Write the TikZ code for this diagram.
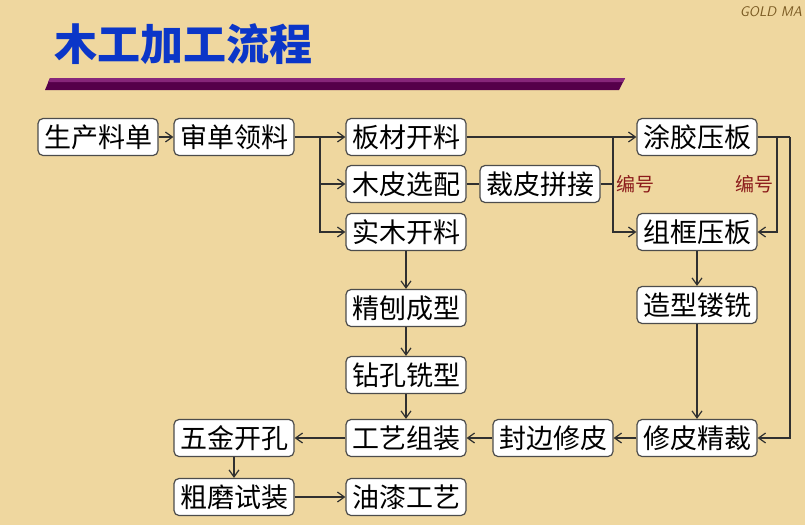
\documentclass[tikz,border=0pt]{standalone}
\usepackage{fontspec}
\newfontfamily\cjk{Noto Sans CJK SC}
\usetikzlibrary{arrows.meta,positioning}
\definecolor{paper}{HTML}{EFD79F}
\definecolor{titleblue}{HTML}{0B36C8}
\definecolor{barpurple}{HTML}{55004A}
\definecolor{bartop}{HTML}{86267A}
\definecolor{numred}{HTML}{8B1A1A}
\definecolor{linegray}{HTML}{303030}
\definecolor{logobrown}{HTML}{7A5A22}

\begin{document}
\begin{tikzpicture}[x=1pt,y=-1pt,
  proc/.style={rounded corners=5pt,draw=gray!60!black,fill=white,line width=1.2pt,minimum width=120pt,minimum height=37pt,inner sep=0pt,font=\cjk\fontsize{27}{29}\selectfont},
  link/.style={draw=linegray,line width=1.2pt},
  arr/.style={link,-{Straight Barb[length=7pt,width=10pt]}},
  tag/.style={text=numred,font=\cjk\fontsize{19}{20}\selectfont,inner sep=0pt}]
  \useasboundingbox (0,0) rectangle (805,525);
  \clip (0,0) rectangle (805,525);
  \fill[paper] (0,0) rectangle (805,525);
  % title and bar
  \node[anchor=west,inner sep=0pt,text=titleblue,font=\cjk\bfseries\fontsize{43}{45}\selectfont] (title) at (54,44) {木工加工流程};
  \fill[barpurple] (45,90) -- (50,78) -- (625,78) -- (619,90) -- cycle;
  \fill[bartop] (48,82) -- (50,78) -- (625,78) -- (623,82) -- cycle;
  \node[anchor=east,inner sep=0pt,text=logobrown,font=\sffamily\itshape\fontsize{14}{14}\selectfont] (logo) at (802,12) {GOLD MA};
  % process boxes
  \node[proc] (dan) at (98,137) {生产料单};
  \node[proc] (shen) at (234,137) {审单领料};
  \node[proc] (ban) at (406,137) {板材开料};
  \node[proc] (mupi) at (406,184) {木皮选配};
  \node[proc] (shimu) at (406,232) {实木开料};
  \node[proc] (caipi) at (540,184) {裁皮拼接};
  \node[proc] (tujiao) at (697,137) {涂胶压板};
  \node[proc] (zukuang) at (697,232) {组框压板};
  \node[proc] (zaoxing) at (697,305) {造型镂铣};
  \node[proc] (jingbao) at (406,308) {精刨成型};
  \node[proc] (zuankong) at (406,375) {钻孔铣型};
  \node[proc] (zuzhuang) at (406,438) {工艺组装};
  \node[proc] (fengbian) at (553,438) {封边修皮};
  \node[proc] (xiupi) at (697,438) {修皮精裁};
  \node[proc] (wujin) at (234,438) {五金开孔};
  \node[proc] (cumo) at (234,497) {粗磨试装};
  \node[proc] (youqi) at (406,497) {油漆工艺};
  % branch points
  \coordinate (fen) at (320,137);
  \coordinate (he) at (613,137);
  \coordinate (hui) at (777,137);
  \coordinate (rao) at (790,137);
  \node[tag,anchor=west] (bh1) at (616,184) {编号};
  \node[tag,anchor=east] (bh2) at (774,184) {编号};
  % connectors
  \draw[arr] (dan) -- (shen);
  \draw[link] (shen) -- (fen);
  \draw[arr] (fen) -- (ban);
  \draw[arr] (fen) |- (mupi);
  \draw[arr] (fen) |- (shimu);
  \draw[link] (mupi) -- (caipi);
  \draw[link] (caipi) -- (caipi -| he);
  \draw[link] (ban) -- (he);
  \draw[arr] (he) -- (tujiao);
  \draw[arr] (he) |- (zukuang);
  \draw[link] (tujiao) -- (rao);
  \draw[arr] (hui) |- (zukuang);
  \draw[arr] (rao) |- (xiupi);
  \draw[arr] (zukuang) -- (zaoxing);
  \draw[arr] (zaoxing) -- (xiupi);
  \draw[arr] (shimu) -- (jingbao);
  \draw[arr] (jingbao) -- (zuankong);
  \draw[arr] (zuankong) -- (zuzhuang);
  \draw[arr] (xiupi) -- (fengbian);
  \draw[arr] (fengbian) -- (zuzhuang);
  \draw[arr] (zuzhuang) -- (wujin);
  \draw[arr] (wujin) -- (cumo);
  \draw[arr] (cumo) -- (youqi);
\end{tikzpicture}
\end{document}
